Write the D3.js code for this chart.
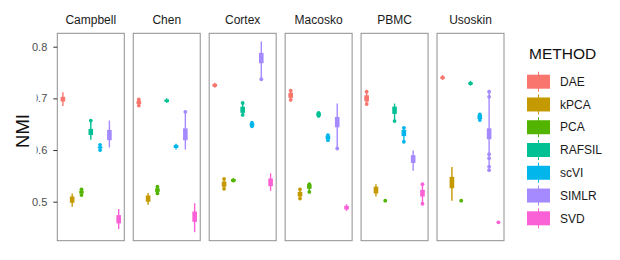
<!DOCTYPE html>
<html>
<head>
<meta charset="utf-8">
<script src="https://cdn.jsdelivr.net/npm/d3@7"></script>
<style>
  body { margin: 0; background: #fff; }
  svg { display: block; font-family: "Liberation Sans", Arial, sans-serif; }
</style>
</head>
<body>
<svg id="chart" width="620" height="260"></svg>
<script>
// facets, methods and colours
const datasets = ['Campbell', 'Chen', 'Cortex', 'Macosko', 'PBMC', 'Usoskin'];
const methods = ['DAE', 'kPCA', 'PCA', 'RAFSIL', 'scVI', 'SIMLR', 'SVD'];
const colors = ['#F8766D', '#C49A00', '#53B400', '#00C094', '#00B6EB', '#A58AFF', '#FB61D7'];
const yTicks = [0.5, 0.6, 0.7, 0.8];

// box stats per method: [min, q1, median, q3, max]
const campbellBox = [
  [0.685, 0.694, 0.698, 0.703, 0.712],
  [0.490, 0.498, 0.504, 0.510, 0.516],
  [0.513, 0.516, 0.518, 0.521, 0.524],
  [0.620, 0.629, 0.635, 0.641, 0.657],
  [0.600, 0.603, 0.605, 0.607, 0.610],
  [0.605, 0.619, 0.630, 0.639, 0.657],
  [0.447, 0.458, 0.466, 0.474, 0.486]
];
const chenBox = [
  [0.686, 0.689, 0.692, 0.695, 0.698],
  [0.494, 0.500, 0.506, 0.512, 0.517],
  [0.516, 0.519, 0.522, 0.526, 0.529],
  [0.691, 0.693, 0.695, 0.698, 0.700],
  [0.601, 0.604, 0.607, 0.610, 0.612],
  [0.601, 0.619, 0.630, 0.642, 0.674],
  [0.441, 0.461, 0.470, 0.481, 0.497]
];
const cortexBox = [
  [0.721, 0.723, 0.725, 0.728, 0.730],
  [0.525, 0.529, 0.533, 0.539, 0.544],
  [0.538, 0.539, 0.541, 0.544, 0.546],
  [0.668, 0.672, 0.678, 0.684, 0.691],
  [0.645, 0.647, 0.650, 0.652, 0.654],
  [0.737, 0.768, 0.778, 0.788, 0.810],
  [0.521, 0.530, 0.537, 0.545, 0.555]
];
const macoskoBox = [
  [0.697, 0.701, 0.706, 0.711, 0.715],
  [0.506, 0.510, 0.515, 0.519, 0.524],
  [0.519, 0.525, 0.530, 0.533, 0.534],
  [0.664, 0.666, 0.669, 0.672, 0.674],
  [0.619, 0.621, 0.624, 0.628, 0.629],
  [0.603, 0.644, 0.653, 0.664, 0.690],
  [0.482, 0.485, 0.488, 0.492, 0.495]
];
const pbmcBox = [
  [0.689, 0.694, 0.700, 0.706, 0.713],
  [0.510, 0.516, 0.523, 0.529, 0.534],
  [0.502, 0.502, 0.502, 0.502, 0.502],
  [0.656, 0.670, 0.677, 0.684, 0.690],
  [0.616, 0.627, 0.632, 0.639, 0.643],
  [0.560, 0.575, 0.583, 0.590, 0.599],
  [0.496, 0.510, 0.517, 0.523, 0.534]
];
const usoskinBox = [
  [0.736, 0.738, 0.740, 0.742, 0.745],
  [0.502, 0.526, 0.537, 0.548, 0.567],
  [0.502, 0.502, 0.502, 0.502, 0.502],
  [0.725, 0.727, 0.729, 0.731, 0.734],
  [0.657, 0.660, 0.663, 0.668, 0.671],
  [0.561, 0.621, 0.630, 0.642, 0.713],
  [0.460, 0.460, 0.460, 0.460, 0.460]
];

// single points drawn over the boxes: [method, value]
const campbellPts = [['PCA', 0.524], ['PCA', 0.513], ['RAFSIL', 0.657], ['scVI', 0.610], ['scVI', 0.600]];
const chenPts = [['DAE', 0.698], ['DAE', 0.686], ['SIMLR', 0.674], ['PCA', 0.529], ['PCA', 0.516]];
const cortexPts = [['DAE', 0.725], ['kPCA', 0.544], ['kPCA', 0.525], ['PCA', 0.541],
  ['RAFSIL', 0.691], ['RAFSIL', 0.678], ['RAFSIL', 0.668], ['scVI', 0.653], ['scVI', 0.646], ['SIMLR', 0.737]];
const macoskoPts = [['DAE', 0.715], ['DAE', 0.706], ['DAE', 0.697], ['kPCA', 0.524], ['kPCA', 0.515],
  ['kPCA', 0.506], ['PCA', 0.534], ['PCA', 0.519], ['RAFSIL', 0.672], ['RAFSIL', 0.666],
  ['scVI', 0.629], ['scVI', 0.624], ['scVI', 0.619], ['SIMLR', 0.603]];
const pbmcPts = [['DAE', 0.713], ['DAE', 0.700], ['DAE', 0.689], ['PCA', 0.502], ['RAFSIL', 0.656],
  ['scVI', 0.643], ['scVI', 0.616], ['SVD', 0.534], ['SVD', 0.496]];
const usoskinPts = [['DAE', 0.740], ['PCA', 0.502], ['RAFSIL', 0.729], ['scVI', 0.669], ['scVI', 0.663],
  ['scVI', 0.658], ['SIMLR', 0.713], ['SIMLR', 0.703], ['SIMLR', 0.592], ['SIMLR', 0.584],
  ['SIMLR', 0.568], ['SIMLR', 0.561], ['SVD', 0.460]];

const boxes = [campbellBox, chenBox, cortexBox, macoskoBox, pbmcBox, usoskinBox];
const points = [campbellPts, chenPts, cortexPts, macoskoPts, pbmcPts, usoskinPts];

const svg = d3.select('#chart');
const panelTop = 33.3;
const panelBottom = 240.7;

const facet = d3.scaleBand()
  .domain(datasets)
  .range([57.3, 504])
  .paddingInner(0.118);

const y = d3.scaleLinear()
  .domain([0.5, 0.8])
  .range([201.7, 46.7]);

const color = d3.scaleOrdinal().domain(methods).range(colors);

const boxW = 4.6;

datasets.forEach((name, i) => {
  const x0 = facet(name);
  const x = d3.scalePoint()
    .domain(methods)
    .range([x0, x0 + facet.bandwidth()])
    .padding(0.6);

  const g = svg.append('g');

  // strip label
  g.append('text')
    .attr('x', x0 + facet.bandwidth() / 2)
    .attr('y', 23.5)
    .attr('text-anchor', 'middle')
    .attr('font-size', '12px')
    .attr('fill', '#1a1a1a')
    .text(name);

  // whiskers
  g.selectAll('line.whisker')
    .data(boxes[i])
    .join('line')
    .attr('class', 'whisker')
    .attr('x1', (d, j) => x(methods[j]))
    .attr('x2', (d, j) => x(methods[j]))
    .attr('y1', d => y(d[0]))
    .attr('y2', d => y(d[4]))
    .attr('stroke', (d, j) => colors[j])
    .attr('stroke-width', 1.4);

  // boxes
  g.selectAll('rect.box')
    .data(boxes[i])
    .join('rect')
    .attr('class', 'box')
    .attr('x', (d, j) => x(methods[j]) - boxW / 2)
    .attr('width', boxW)
    .attr('y', d => y(d[3]))
    .attr('height', d => y(d[1]) - y(d[3]))
    .attr('fill', (d, j) => colors[j]);

  // points
  g.selectAll('circle')
    .data(points[i])
    .join('circle')
    .attr('cx', d => x(d[0]))
    .attr('cy', d => y(d[1]))
    .attr('r', 1.9)
    .attr('fill', d => color(d[0]));

  // panel border
  g.append('rect')
    .attr('x', x0)
    .attr('y', panelTop)
    .attr('width', facet.bandwidth())
    .attr('height', panelBottom - panelTop)
    .attr('fill', 'none')
    .attr('stroke', '#8f8f8f')
    .attr('stroke-width', 1);
});

// y axis on the first panel
const yAxis = d3.axisLeft(y)
  .tickValues(yTicks)
  .tickFormat(d3.format('.1f'))
  .tickSize(4)
  .tickPadding(6);

const axisG = svg.append('g')
  .attr('transform', `translate(${facet(datasets[0])},0)`)
  .call(yAxis);
axisG.select('.domain').remove();
axisG.selectAll('.tick line').attr('stroke', '#333');
axisG.selectAll('.tick text')
  .attr('font-size', '11px')
  .attr('fill', '#4d4d4d')
  .attr('font-family', '"Liberation Sans", Arial, sans-serif');

// y axis title (its white box hides part of the tick labels, as in the original)
svg.append('rect')
  .attr('x', 0)
  .attr('y', 92)
  .attr('width', 36.5)
  .attr('height', 66)
  .attr('fill', '#fff');

svg.append('text')
  .attr('transform', 'translate(29,131) rotate(-90)')
  .attr('text-anchor', 'middle')
  .attr('font-size', '18.5px')
  .attr('fill', '#111')
  .text('NMI');

// legend
const legend = svg.append('g');
legend.append('text')
  .attr('x', 529)
  .attr('y', 59)
  .attr('font-size', '15.5px')
  .attr('fill', '#111')
  .text('METHOD');

const keyY = d3.scalePoint()
  .domain(methods)
  .range([81.7, 218.3]);

const keys = legend.selectAll('g.key')
  .data(methods)
  .join('g')
  .attr('class', 'key')
  .attr('transform', d => `translate(0,${keyY(d)})`);

keys.append('line')
  .attr('x1', 538.5).attr('x2', 538.5)
  .attr('y1', -10).attr('y2', 10)
  .attr('stroke', d => color(d))
  .attr('stroke-width', 1);

keys.append('rect')
  .attr('x', 527)
  .attr('y', -7)
  .attr('width', 23)
  .attr('height', 14)
  .attr('fill', d => color(d));

keys.append('text')
  .attr('x', 560)
  .attr('y', 4.2)
  .attr('font-size', '12px')
  .attr('fill', '#1a1a1a')
  .text(d => d);
</script>
</body>
</html>
